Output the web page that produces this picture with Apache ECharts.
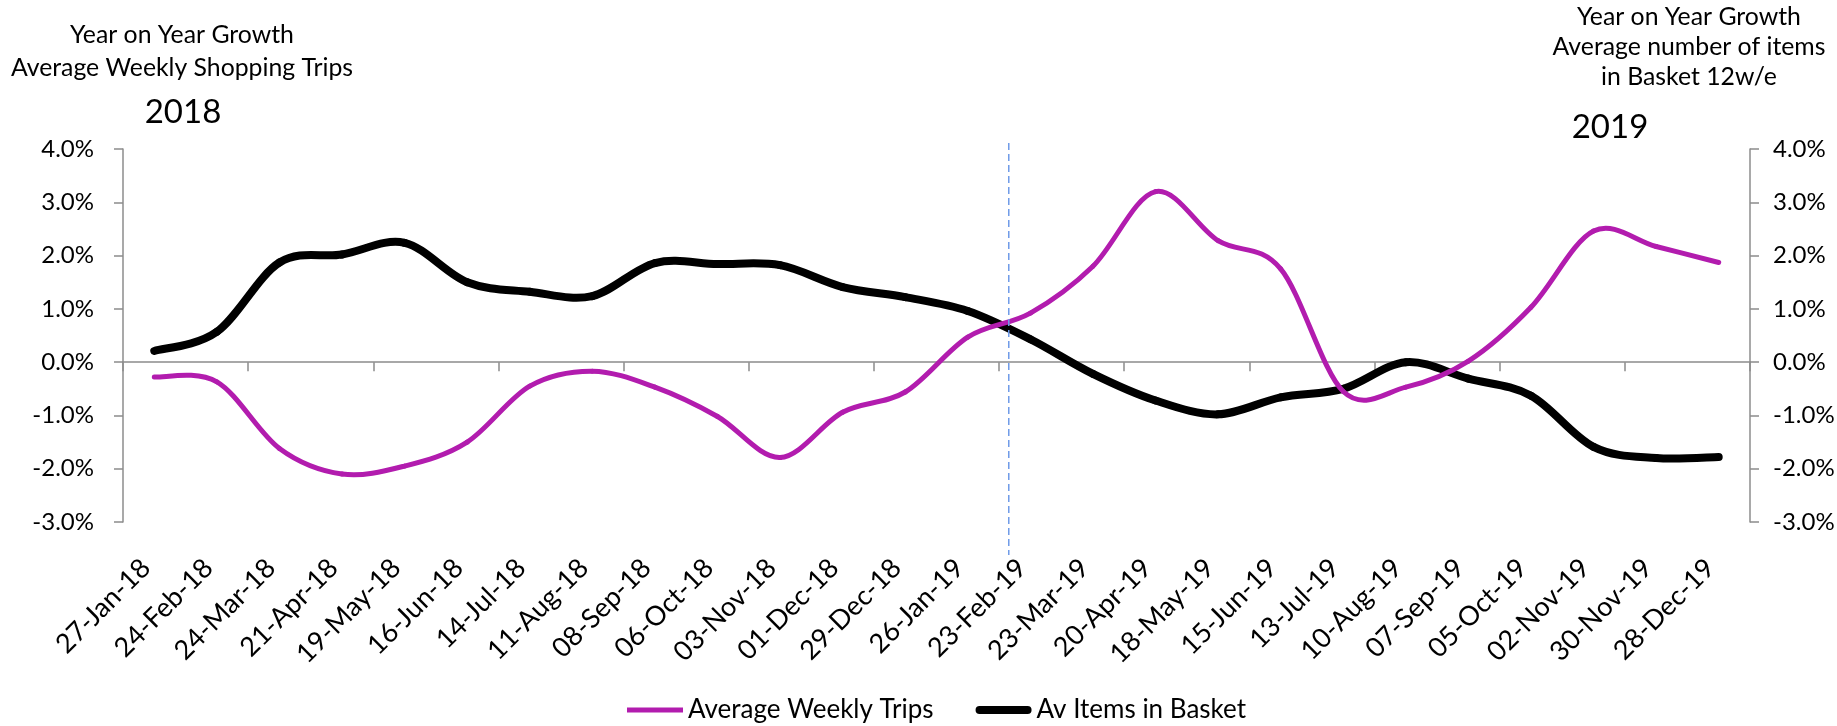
<!DOCTYPE html>
<html>
<head>
<meta charset="utf-8">
<script src="https://cdn.jsdelivr.net/npm/echarts@6/dist/echarts.min.js"></script>
<style>
  html, body { margin: 0; padding: 0; background: #fff; }
  #main { width: 1837px; height: 726px; }
</style>
</head>
<body>
<div id="main"></div>
<script>
var categories = ['27-Jan-18','24-Feb-18','24-Mar-18','21-Apr-18','19-May-18','16-Jun-18','14-Jul-18','11-Aug-18','08-Sep-18','06-Oct-18','03-Nov-18','01-Dec-18','29-Dec-18','26-Jan-19','23-Feb-19','23-Mar-19','20-Apr-19','18-May-19','15-Jun-19','13-Jul-19','10-Aug-19','07-Sep-19','05-Oct-19','02-Nov-19','30-Nov-19','28-Dec-19'];
// year on year growth, %
var weeklyTrips = [-0.28,-0.37,-1.62,-2.10,-1.95,-1.50,-0.45,-0.17,-0.47,-1.02,-1.79,-0.94,-0.56,0.47,0.92,1.80,3.20,2.28,1.75,-0.55,-0.47,0.02,1.03,2.46,2.17,1.87];
var basketItems = [0.21,0.57,1.87,2.02,2.24,1.50,1.32,1.24,1.86,1.84,1.82,1.41,1.22,0.96,0.43,-0.22,-0.72,-0.98,-0.66,-0.50,0.00,-0.31,-0.63,-1.59,-1.80,-1.78];
var yTicks = { min: -3, max: 4, step: 1 };

var FONT = 'Lato';
var gray = '#8c8c8c';
var magenta = '#b21cae';

var myChart = echarts.init(document.getElementById('main'));

function pct(v){ return v.toFixed(1) + '%'; }

// excel style smoothed line: one bezier piece per pair of points
function smoothLine(name, values, color, width, yAxisIndex, z) {
    return {
        name: name,
        type: 'custom',
        xAxisIndex: 0,
        yAxisIndex: yAxisIndex,
        z: z,
        itemStyle: { color: color },
        data: values.map(function (v, i) { return [i, v]; }),
        encode: { x: 0, y: 1 },
        renderItem: function (params, api) {
            var i = params.dataIndex;
            if (i >= values.length - 1) return null;
            var pt = function (k) {
                k = Math.max(0, Math.min(values.length - 1, k));
                return api.coord([k, values[k]]);
            };
            var p0 = pt(i - 1), p1 = pt(i), p2 = pt(i + 1), p3 = pt(i + 2);
            var t = 1 / 6;
            return {
                type: 'bezierCurve',
                shape: {
                    x1: p1[0], y1: p1[1], x2: p2[0], y2: p2[1],
                    cpx1: p1[0] + (p2[0] - p0[0]) * t, cpy1: p1[1] + (p2[1] - p0[1]) * t,
                    cpx2: p2[0] - (p3[0] - p1[0]) * t, cpy2: p2[1] - (p3[1] - p1[1]) * t
                },
                style: { stroke: color, lineWidth: width, fill: null, lineCap: 'round' }
            };
        }
    };
}

myChart.setOption({
    animation: false,
    textStyle: { fontFamily: FONT },
    grid: { left: 123, right: 87, top: 149, bottom: 204, containLabel: false, outerBoundsMode: 'none' },
    legend: {
        left: 627,
        top: 697,
        padding: 0,
        itemWidth: 56,
        itemHeight: 8,
        itemGap: 42,
        textStyle: { fontFamily: FONT, fontSize: 26, color: '#000' },
        data: [
            { name: 'Average Weekly Trips', icon: 'path://M0,0M0,1.5h56v5h-56zM56,8' },
            { name: 'Av Items in Basket', icon: 'path://M4,0h48a4,4 0 0 1 0,8h-48a4,4 0 0 1 0,-8z' }
        ]
    },
    xAxis: [{
        type: 'category',
        data: categories,
        boundaryGap: true,
        position: 'bottom',
        axisLine: { show: false, onZero: false },
        axisTick: { show: false },
        axisLabel: {
            interval: 0, rotate: 45, margin: 33,
            padding: [0, 12, 0, 0],
            fontFamily: FONT, fontSize: 27, color: '#000'
        }
    }, {
        type: 'category',
        data: categories,
        boundaryGap: true,
        position: 'bottom',
        axisLine: { show: true, onZero: true, lineStyle: { color: gray, width: 1.5 } },
        axisTick: { show: true, length: 9, lineStyle: { color: gray, width: 1.5 } },
        axisLabel: { show: false }
    }],
    yAxis: [{
        type: 'value',
        min: yTicks.min, max: yTicks.max, interval: yTicks.step,
        axisLine: { show: true, lineStyle: { color: gray, width: 1.5 } },
        axisTick: { show: true, length: 9, lineStyle: { color: gray, width: 1.5 } },
        splitLine: { show: false },
        axisLabel: { formatter: pct, margin: 29, fontFamily: FONT, fontSize: 24, color: '#000' }
    }, {
        type: 'value',
        position: 'right',
        min: yTicks.min, max: yTicks.max, interval: yTicks.step,
        axisLine: { show: true, lineStyle: { color: gray, width: 1.5 } },
        axisTick: { show: true, length: 9, lineStyle: { color: gray, width: 1.5 } },
        splitLine: { show: false },
        axisLabel: { formatter: pct, margin: 23, fontFamily: FONT, fontSize: 24, color: '#000' }
    }],
    series: [
        smoothLine('Average Weekly Trips', weeklyTrips, magenta, 5, 0, 3),
        smoothLine('Av Items in Basket', basketItems, '#000', 8, 1, 2)
    ]
});

// dashed divider between the two years, placed from the category scale
var xa = myChart.convertToPixel({ xAxisIndex: 0 }, categories[13]);
var xb = myChart.convertToPixel({ xAxisIndex: 0 }, categories[14]);
var xDiv = xa + (xb - xa) * 0.655;

myChart.setOption({
    graphic: [
        { type: 'text', id: 't1', x: 182, y: 52, style: { text: 'Year on Year Growth\nAverage Weekly Shopping Trips', textAlign: 'center', textVerticalAlign: 'middle', font: '24.8px ' + FONT, fill: '#000', lineHeight: 33 } },
        { type: 'text', id: 't2', x: 183, y: 112, style: { text: '2018', textAlign: 'center', textVerticalAlign: 'middle', font: '33px ' + FONT, fill: '#000' } },
        { type: 'text', id: 't3', x: 1689, y: 47, style: { text: 'Year on Year Growth\nAverage number of items\nin Basket 12w/e', textAlign: 'center', textVerticalAlign: 'middle', font: '24.8px ' + FONT, fill: '#000', lineHeight: 30 } },
        { type: 'text', id: 't4', x: 1610, y: 127, style: { text: '2019', textAlign: 'center', textVerticalAlign: 'middle', font: '33px ' + FONT, fill: '#000' } },
        { type: 'line', id: 'div', z: 10, shape: { x1: xDiv, y1: 143, x2: xDiv, y2: 555 }, style: { stroke: '#6f9be8', lineWidth: 1.5, lineDash: [7, 4] } }
    ]
});
</script>
</body>
</html>
